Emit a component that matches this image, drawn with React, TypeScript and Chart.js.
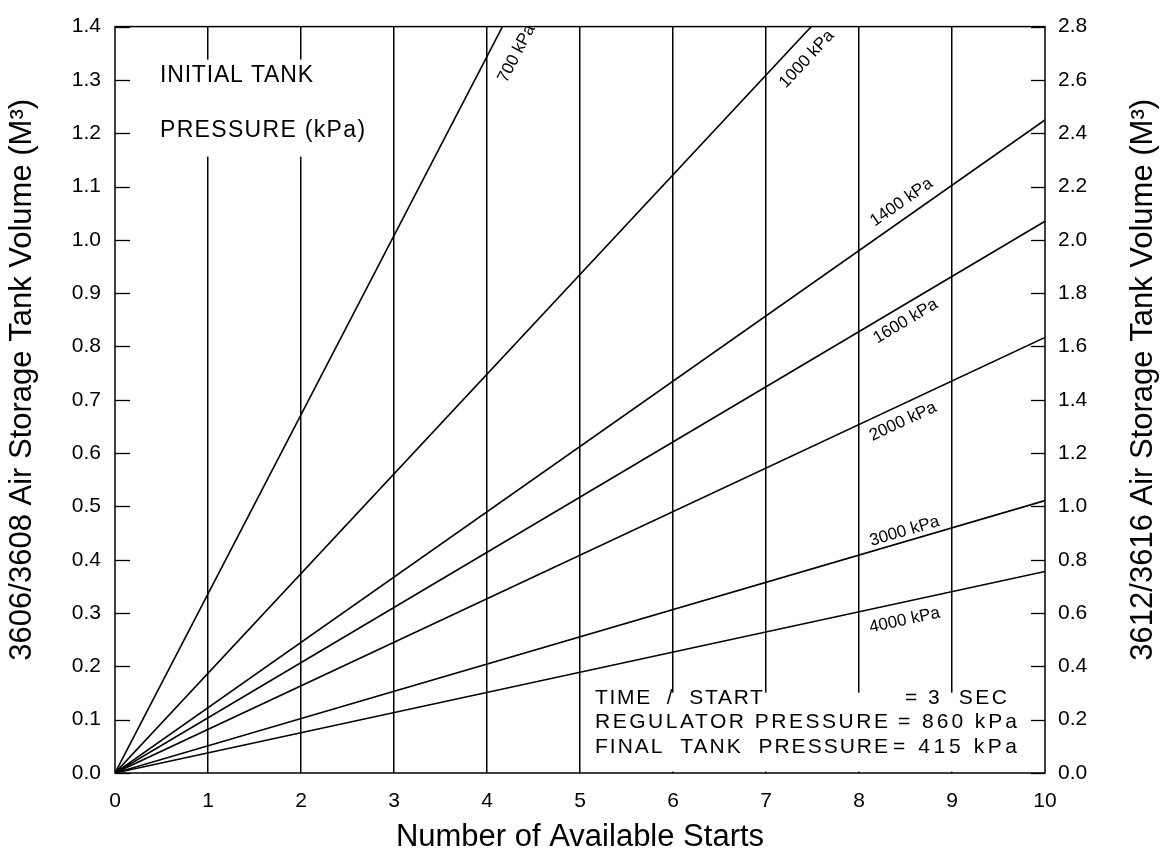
import React, { useEffect, useRef } from 'react';
import { Chart, registerables } from 'chart.js';

Chart.register(...registerables);

const FONT = '"Liberation Sans", Arial, Helvetica, sans-serif';

// ---- Data ----
const startsRange = [0, 10];
const pressureNames = ['700 kPa', '1000 kPa', '1400 kPa', '1600 kPa', '2000 kPa', '3000 kPa', '4000 kPa'];
const volumeAtZeroStarts = [0, 0, 0, 0, 0, 0, 0];
const volumeAtTenStarts = [3.36, 1.87, 1.225, 1.035, 0.817, 0.511, 0.378];
const leftAxisRange = [0, 1.4];
const leftAxisStep = 0.1;
const rightAxisRange = [0, 2.8];
const rightAxisStep = 0.2;
const xAxisStep = 1;
const headingLines = ['INITIAL TANK', 'PRESSURE (kPa)'];
const noteKeys = ['TIME  /  START', 'REGULATOR PRESSURE', 'FINAL  TANK  PRESSURE'];
const noteValues = ['= 3  SEC', '= 860 kPa', '= 415 kPa'];
const xTitle = 'Number of Available Starts';
const leftTitle = '3606/3608 Air Storage Tank Volume (M\u00B3)';
const rightTitle = '3612/3616 Air Storage Tank Volume (M\u00B3)';

// ---- Placement / style (not data) ----
const labelAnchorX = [4.08, 7.29, 8.55, 8.42, 8.4, 8.52, 8.45];
const labelOffset = [-25, -19, 15, -15, -16, 10, -18];
// [left, y(middle), width] in px relative to chart area left/top
const headingPlace = [
  [45, 49, 153],
  [45, 104, 205],
];
const noteKeyPlace = [
  [480, 672, 168],
  [480, 696, 293],
  [480, 721, 293],
];
const noteValPlace = [
  [790, 672, 102],
  [783, 696, 119],
  [778, 721, 124],
];

function fitText(ctx: CanvasRenderingContext2D, text: string, x: number, y: number, width: number) {
  (ctx as any).letterSpacing = '0px';
  const w = ctx.measureText(text).width;
  const n = Array.from(text).length;
  const sp = n > 1 ? (width - w) / (n - 1) : 0;
  (ctx as any).letterSpacing = sp.toFixed(2) + 'px';
  ctx.fillText(text, x, y);
  (ctx as any).letterSpacing = '0px';
}

const decorPlugin = {
  id: 'decor',
  beforeDatasetsDraw(chart: any) {
    const { ctx, chartArea: a } = chart;
    ctx.save();
    ctx.fillStyle = '#ffffff';
    ctx.fillRect(a.left + 35, a.top + 33, 230, 97);
    ctx.fillRect(a.left + 473, a.top + 666, 438, 79);
    ctx.restore();
  },
  afterDatasetsDraw(chart: any) {
    const { ctx, chartArea: a } = chart;
    const xs = chart.scales.x;
    const ys = chart.scales.y;
    const y1 = chart.scales.y1;
    ctx.save();
    // frame
    ctx.strokeStyle = '#000';
    ctx.lineWidth = 1.5;
    ctx.strokeRect(a.left, a.top, a.right - a.left, a.bottom - a.top);
    // inward ticks
    ctx.lineWidth = 1.3;
    ys.ticks.forEach((t: any) => {
      const p = Math.round(ys.getPixelForValue(t.value)) + 0.5;
      ctx.beginPath();
      ctx.moveTo(a.left, p);
      ctx.lineTo(a.left + 15, p);
      ctx.stroke();
    });
    y1.ticks.forEach((t: any) => {
      const p = Math.round(y1.getPixelForValue(t.value)) + 0.5;
      ctx.beginPath();
      ctx.moveTo(a.right - 14, p);
      ctx.lineTo(a.right, p);
      ctx.stroke();
    });

    // line labels
    ctx.fillStyle = '#000';
    ctx.font = `17px ${FONT}`;
    ctx.textAlign = 'center';
    ctx.textBaseline = 'middle';
    chart.data.datasets.forEach((ds: any, i: number) => {
      const d0 = ds.data[0];
      const d1 = ds.data[1];
      const p0x = xs.getPixelForValue(d0.x), p0y = ys.getPixelForValue(d0.y);
      const p1x = xs.getPixelForValue(d1.x), p1y = ys.getPixelForValue(d1.y);
      const ang = Math.atan2(p1y - p0y, p1x - p0x);
      const xv = labelAnchorX[i];
      const yv = d0.y + ((d1.y - d0.y) * (xv - d0.x)) / (d1.x - d0.x);
      const px = xs.getPixelForValue(xv);
      const py = ys.getPixelForValue(yv);
      const off = labelOffset[i];
      const cx = px + off * Math.sin(ang);
      const cy = py - off * Math.cos(ang);
      ctx.save();
      ctx.translate(cx, cy);
      ctx.rotate(ang);
      ctx.fillText(ds.label, 0, 0);
      ctx.restore();
    });

    // heading text
    ctx.textAlign = 'left';
    ctx.textBaseline = 'middle';
    ctx.font = `23px ${FONT}`;
    headingLines.forEach((t, i) => {
      const [dx, dy, w] = headingPlace[i];
      fitText(ctx, t, a.left + dx, a.top + dy, w);
    });
    // notes
    ctx.font = `21px ${FONT}`;
    noteKeys.forEach((t, i) => {
      const [dx, dy, w] = noteKeyPlace[i];
      fitText(ctx, t, a.left + dx, a.top + dy, w);
    });
    noteValues.forEach((t, i) => {
      const [dx, dy, w] = noteValPlace[i];
      fitText(ctx, t, a.left + dx, a.top + dy, w);
    });

    // vertical axis titles (both read bottom-to-top)
    ctx.font = `31px ${FONT}`;
    ctx.textAlign = 'center';
    ctx.textBaseline = 'middle';
    const midY = (a.top + a.bottom) / 2 - 20;
    ctx.save();
    ctx.translate(22, midY);
    ctx.rotate(-Math.PI / 2);
    ctx.fillText(leftTitle, 0, 0);
    ctx.restore();
    ctx.save();
    ctx.translate(chart.width - 22, midY);
    ctx.rotate(-Math.PI / 2);
    ctx.fillText(rightTitle, 0, 0);
    ctx.restore();
    ctx.restore();
  },
};

export default function App() {
  const ref = useRef<HTMLCanvasElement | null>(null);
  useEffect(() => {
    document.body.style.margin = '0';
    const canvas = ref.current;
    if (!canvas) return;
    const datasets = pressureNames.map((name, i) => ({
      label: name,
      data: [
        { x: startsRange[0], y: volumeAtZeroStarts[i] },
        { x: startsRange[1], y: volumeAtTenStarts[i] },
      ],
      showLine: true,
      borderColor: '#000',
      borderWidth: 1.6,
      pointRadius: 0,
      fill: false,
      yAxisID: 'y',
    }));
    const tickFont = { family: FONT, size: 21 };
    const chart = new Chart(canvas, {
      type: 'scatter',
      data: { datasets },
      options: {
        animation: false,
        responsive: false,
        maintainAspectRatio: false,
        layout: { padding: { top: 17, left: 0, right: 0, bottom: 0 } },
        plugins: { legend: { display: false }, tooltip: { enabled: false } },
        scales: {
          x: {
            type: 'linear',
            min: startsRange[0],
            max: startsRange[1],
            ticks: { stepSize: xAxisStep, color: '#000', font: tickFont, padding: 16 },
            grid: {
              drawTicks: false,
              lineWidth: 1.5,
              color: (c: any) =>
                c.tick && (c.tick.value === startsRange[0] || c.tick.value === startsRange[1])
                  ? 'rgba(0,0,0,0)'
                  : '#000',
            },
            border: { display: false },
            title: {
              display: true,
              text: xTitle,
              color: '#000',
              font: { family: FONT, size: 31 },
              padding: { top: 0, bottom: 0 },
            },
            afterFit: (s: any) => {
              s.height = 83;
            },
          },
          y: {
            type: 'linear',
            position: 'left',
            min: leftAxisRange[0],
            max: leftAxisRange[1],
            ticks: {
              stepSize: leftAxisStep,
              color: '#000',
              font: tickFont,
              padding: 14,
              callback: (v: any) => Number(v).toFixed(1),
            },
            grid: { display: false, drawTicks: false },
            border: { display: false },
            afterFit: (s: any) => {
              s.width = 115;
            },
          },
          y1: {
            type: 'linear',
            position: 'right',
            min: rightAxisRange[0],
            max: rightAxisRange[1],
            ticks: {
              stepSize: rightAxisStep,
              color: '#000',
              font: tickFont,
              padding: 13,
              callback: (v: any) => Number(v).toFixed(1),
            },
            grid: { display: false, drawTicks: false },
            border: { display: false },
            afterFit: (s: any) => {
              s.width = 120;
            },
          },
        },
      },
      plugins: [decorPlugin],
    } as any);
    return () => chart.destroy();
  }, []);
  return (
    <div style={{ width: 1165, height: 856 }}>
      <canvas ref={ref} width={1165} height={856} />
    </div>
  );
}
